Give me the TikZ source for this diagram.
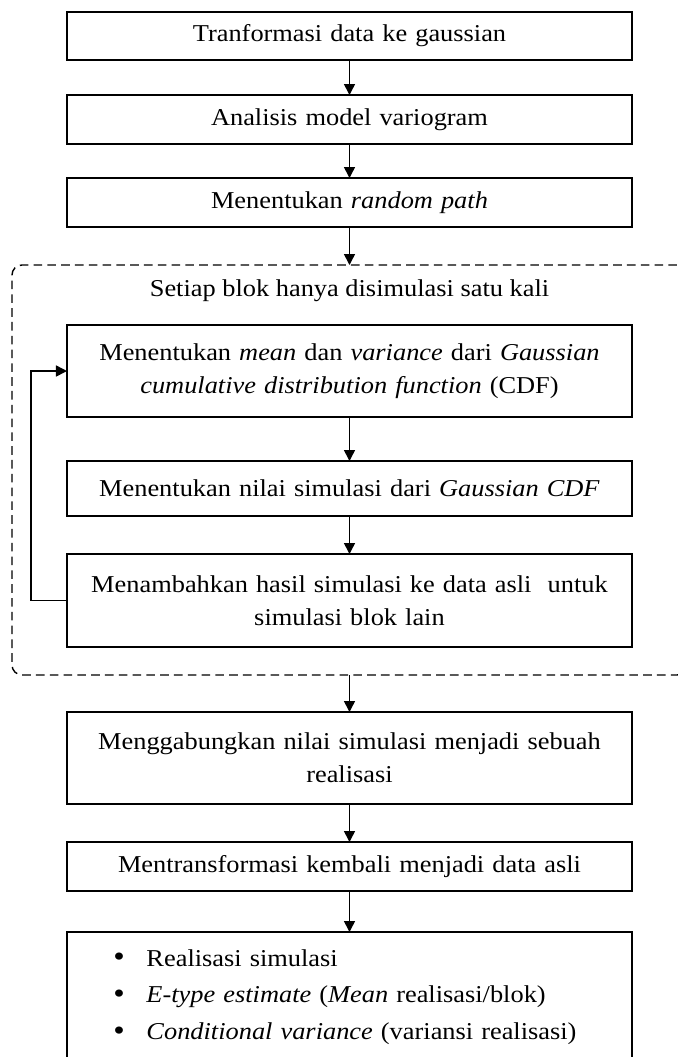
\documentclass[tikz,border=0pt]{standalone}
\usepackage{fontspec}
\setmainfont{Liberation Serif}[FakeStretch=1.09]
\usetikzlibrary{arrows.meta, positioning, fit, calc}
\tikzstyle{arrow} = [line width=0.8pt,-{Triangle[length=5.5pt,width=5.5pt]}]
\newcommand{\itemdot}{\makebox[16.5pt][l]{\raisebox{-0.3pt}{\fontsize{15}{0}\selectfont\textbullet}}}

\begin{document}
\begin{tikzpicture}[
        stepbox/.style={rectangle, draw, line width=0.9pt, minimum width=282.5pt, text width=274pt, align=center, inner sep=0pt, outer sep=0pt, font=\fontsize{12.1}{16.5}\selectfont},
        group/.style={rectangle, draw, dash pattern=on 4.3pt off 2.6pt, line width=0.7pt, rounded corners=5pt, inner sep=0pt, outer sep=0pt},
        heading/.style={inner sep=0pt, font=\fontsize{12.1}{16.5}\selectfont},
        node distance=17.5pt
    ]
    \useasboundingbox (-174.75pt,18pt) rectangle (164.25pt,-510.5pt);

    % Steps
    \node[stepbox, minimum height=24pt] (s1) {Tranformasi data ke gaussian};
    \node[stepbox, minimum height=24.5pt, below=17.5pt of s1] (s2) {Analisis model variogram};
    \node[stepbox, minimum height=24.5pt, below=17pt of s2] (s3) {Menentukan \textit{random path}};
    \node[stepbox, minimum height=46pt, below=49pt of s3] (s4) {Menentukan \textit{mean} dan \textit{variance} dari \textit{Gaussian}\\\textit{cumulative distribution function} (CDF)};
    \node[stepbox, minimum height=27.5pt, below=22pt of s4] (s5) {Menentukan nilai simulasi dari \textit{Gaussian CDF}};
    \node[stepbox, minimum height=46.5pt, below=19pt of s5] (s6) {Menambahkan hasil simulasi ke data asli\ \ untuk\\simulasi blok lain};
    \node[stepbox, minimum height=46pt, below=32.5pt of s6] (s7) {Menggabungkan nilai simulasi menjadi sebuah\\realisasi};
    \node[stepbox, minimum height=24.5pt, below=19pt of s7] (s8) {Mentransformasi kembali menjadi data asli};
    \node[stepbox, minimum height=65pt, below=20.5pt of s8, text width=236pt, align=left, font=\fontsize{12.1}{18.3}\selectfont] (s9) {\itemdot Realisasi simulasi\\
        \itemdot\textit{E-type estimate} (\textit{Mean} realisasi/blok)\\
        \itemdot\textit{Conditional variance} (variansi realisasi)};

    % Loop over the blocks
    \coordinate (gtl) at ($(s4.north west)+(-27.5pt,30pt)$);
    \coordinate (gbr) at ($(s6.south east)+(27.5pt,-14pt)$);
    \node[group, fit=(gtl)(gbr)] (loop) {};
    \node[heading] (title) at ($(s4.north)+(0,17pt)$) {Setiap blok hanya disimulasi satu kali};

    % Arrows
    \draw[arrow] (s1) -- (s2);
    \draw[arrow] (s2) -- (s3);
    \draw[arrow] (s3) -- (loop);
    \draw[arrow] (s4) -- (s5);
    \draw[arrow] (s5) -- (s6);
    \draw[arrow] (loop) -- (s7);
    \draw[arrow] (s7) -- (s8);
    \draw[arrow] (s8) -- (s9);
    \draw[arrow] (s6.west) -- ++(-18pt,0) |- (s4.west);

\end{tikzpicture}
\end{document}
